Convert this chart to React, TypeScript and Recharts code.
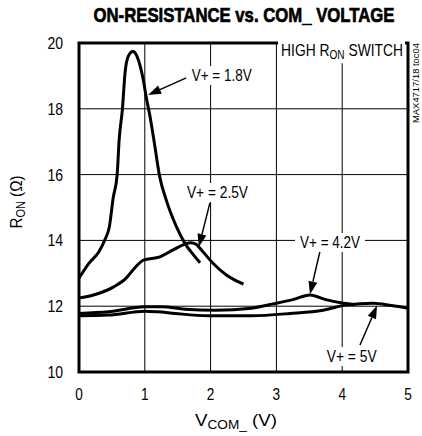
import React from 'react';
import {
    LineChart, Line, XAxis, YAxis, CartesianGrid, ReferenceArea, ReferenceLine, ReferenceDot
} from 'recharts';

document.body.style.margin = '0';

const FONT = "'Liberation Sans', Arial, sans-serif";

const X_TICKS = [0, 1, 2, 3, 4, 5];
const Y_TICKS = [10, 12, 14, 16, 18, 20];

// V+ = 1.8V
const V18 = [
    { v: 0, r: 12.85 }, { v: 0.15, r: 13.3 }, { v: 0.3, r: 13.65 }, { v: 0.4, r: 14.05 },
    { v: 0.46, r: 14.4 }, { v: 0.52, r: 15.3 }, { v: 0.58, r: 16.0 }, { v: 0.61, r: 17.05 },
    { v: 0.66, r: 18.0 }, { v: 0.7, r: 19.1 }, { v: 0.75, r: 19.6 }, { v: 0.82, r: 19.74 },
    { v: 0.88, r: 19.6 }, { v: 0.93, r: 19.3 }, { v: 0.98, r: 18.85 }, { v: 1.02, r: 18.37 },
    { v: 1.08, r: 17.76 }, { v: 1.15, r: 16.9 }, { v: 1.22, r: 16.0 }, { v: 1.33, r: 15.2 },
    { v: 1.48, r: 14.42 }, { v: 1.61, r: 13.91 }, { v: 1.74, r: 13.56 }, { v: 1.84, r: 13.32 },
];

// V+ = 2.5V
const V25 = [
    { v: 0, r: 12.25 }, { v: 0.22, r: 12.34 }, { v: 0.52, r: 12.58 }, { v: 0.72, r: 12.86 },
    { v: 0.82, r: 13.1 }, { v: 0.98, r: 13.4 }, { v: 1.23, r: 13.5 }, { v: 1.43, r: 13.71 },
    { v: 1.6, r: 13.88 }, { v: 1.7, r: 13.93 }, { v: 1.78, r: 13.88 }, { v: 1.86, r: 13.71 },
    { v: 2.04, r: 13.3 }, { v: 2.24, r: 12.95 }, { v: 2.5, r: 12.67 },
];

// V+ = 4.2V
const V42 = [
    { v: 0, r: 11.78 }, { v: 0.45, r: 11.83 }, { v: 1.0, r: 11.98 }, { v: 1.26, r: 11.98 },
    { v: 1.61, r: 11.91 }, { v: 2.07, r: 11.88 }, { v: 2.62, r: 11.94 }, { v: 2.95, r: 12.07 },
    { v: 3.25, r: 12.2 }, { v: 3.51, r: 12.34 }, { v: 3.75, r: 12.2 }, { v: 4.02, r: 12.09 },
    { v: 4.2, r: 12.05 },
];

// V+ = 5V
const V5 = [
    { v: 0, r: 11.71 }, { v: 0.45, r: 11.73 }, { v: 1.0, r: 11.85 }, { v: 1.2, r: 11.83 },
    { v: 1.46, r: 11.78 }, { v: 1.96, r: 11.71 }, { v: 2.62, r: 11.71 }, { v: 3.21, r: 11.78 },
    { v: 3.71, r: 11.88 }, { v: 4.07, r: 12.04 }, { v: 4.47, r: 12.09 }, { v: 4.75, r: 12.02 },
    { v: 5, r: 11.94 },
];

// curve labels: text, left/baseline position in data units, text width
const LABELS = [
    { text: 'V+ = 1.8V', v: 1.713, r: 18.845, w: 60 },
    { text: 'V+ = 2.5V', v: 1.641, r: 15.289, w: 61 },
    { text: 'V+ = 4.2V', v: 3.359, r: 13.769, w: 60 },
    { text: 'V+ = 5V', v: 3.764, r: 10.304, w: 50 },
];

// arrows: from -> to
const ARROWS = [
    { from: { v: 1.63, r: 18.94 }, to: { v: 1.05, r: 18.42 } },
    { from: { v: 1.99, r: 15.14 }, to: { v: 1.82, r: 13.8 } },
    { from: { v: 3.66, r: 13.65 }, to: { v: 3.51, r: 12.36 } },
    { from: { v: 4.27, r: 10.82 }, to: { v: 4.53, r: 12.02 } },
];

function Arrow(props: any) {
    const { x1, y1, x2, y2 } = props;
    const dx = x2 - x1;
    const dy = y2 - y1;
    const len = Math.sqrt(dx * dx + dy * dy) || 1;
    const ux = dx / len;
    const uy = dy / len;
    const hl = 13;
    const hw = 4.5;
    const bx = x2 - ux * hl;
    const by = y2 - uy * hl;
    const pts = `${x2},${y2} ${bx - uy * hw},${by + ux * hw} ${bx + uy * hw},${by - ux * hw}`;
    return (
        <g>
            <line x1={x1} y1={y1} x2={bx} y2={by} stroke="#000" strokeWidth={1.5} />
            <polygon points={pts} fill="#000" />
        </g>
    );
}

function labelShape(text: string, w: number) {
    return (p: any) => (
        <g>
            <rect x={p.cx - 5} y={p.cy - 15} width={w + 10} height={19} fill="#fff" />
            <text x={p.cx} y={p.cy} fontSize={16.5} fontFamily={FONT} fill="#000"
                textLength={w} lengthAdjust="spacingAndGlyphs">{text}</text>
        </g>
    );
}

function highRonShape(p: any) {
    return (
        <g>
            <rect x={p.cx - 3} y={p.cy - 17} width={127} height={24} fill="#fff" />
            <text transform={`translate(${p.cx} ${p.cy}) scale(0.839 1)`} x={0} y={0}
                fontSize={16.5} fontFamily={FONT} fill="#000">
                HIGH R<tspan fontSize={12} dy={3}>ON</tspan><tspan dy={-3}> SWITCH</tspan>
            </text>
        </g>
    );
}

function XTick(props: any) {
    const { x, payload } = props;
    const s = String(payload.value);
    return (
        <text x={x} y={400} textAnchor="middle" fontSize={16.5} fontFamily={FONT} fill="#000"
            textLength={s.length * 7.6} lengthAdjust="spacingAndGlyphs">{s}</text>
    );
}

function YTick(props: any) {
    const { y, payload } = props;
    const s = String(payload.value);
    return (
        <text x={63} y={y + 6} textAnchor="end" fontSize={16.5} fontFamily={FONT} fill="#000"
            textLength={s.length * 7.8} lengthAdjust="spacingAndGlyphs">{s}</text>
    );
}

function YLabel() {
    const cx = 22;
    const cy = 202;
    return (
        <text x={cx} y={cy} transform={`rotate(-90 ${cx} ${cy})`} textAnchor="middle"
            fontSize={16.5} fontFamily={FONT} fill="#000" textLength={53} lengthAdjust="spacingAndGlyphs">
            R<tspan fontSize={12} dy={3}>ON</tspan><tspan dy={-3}> (Ω)</tspan>
        </text>
    );
}

function XLabel() {
    return (
        <text x={195} y={426} fontSize={16.5} fontFamily={FONT} fill="#000"
            textLength={82} lengthAdjust="spacingAndGlyphs">
            V<tspan fontSize={12} dy={3}>COM_</tspan><tspan dy={-3}> (V)</tspan>
        </text>
    );
}

export default function App() {
    return (
        <div style={{ position: 'relative', width: 422, height: 436, background: '#fff' }}>
            <LineChart width={422} height={436} margin={{ top: 43, right: 14, left: 29, bottom: 14 }}>
                <CartesianGrid stroke="#000" strokeWidth={1} />
                <XAxis type="number" dataKey="v" domain={[0, 5]} ticks={X_TICKS} height={50}
                    tickLine={false} axisLine={false} tick={<XTick />} label={<XLabel />} />
                <YAxis type="number" domain={[10, 20]} ticks={Y_TICKS} width={50}
                    tickLine={false} axisLine={false} tick={<YTick />} label={<YLabel />} />
                <Line data={V18} dataKey="r" type="monotone" stroke="#000" strokeWidth={3} dot={false} isAnimationActive={false} />
                <Line data={V25} dataKey="r" type="monotone" stroke="#000" strokeWidth={3} dot={false} isAnimationActive={false} />
                <Line data={V42} dataKey="r" type="monotone" stroke="#000" strokeWidth={3} dot={false} isAnimationActive={false} />
                <Line data={V5} dataKey="r" type="monotone" stroke="#000" strokeWidth={3} dot={false} isAnimationActive={false} />
                {LABELS.map((l) => (
                    <ReferenceDot key={l.text} x={l.v} y={l.r} r={0} ifOverflow="visible" shape={labelShape(l.text, l.w)} />
                ))}
                {ARROWS.map((a, i) => (
                    <ReferenceLine key={i} segment={[{ x: a.from.v, y: a.from.r }, { x: a.to.v, y: a.to.r }]}
                        ifOverflow="visible" shape={Arrow} />
                ))}
                <ReferenceDot x={3.071} y={19.6} r={0} ifOverflow="visible" shape={highRonShape} />
                <ReferenceArea x1={0} x2={5} y1={10} y2={20} fill="none" fillOpacity={0} stroke="#000" strokeWidth={3} ifOverflow="visible" />
            </LineChart>
            <svg width={422} height={436} style={{ position: 'absolute', left: 0, top: 0, pointerEvents: 'none' }}>
                <text transform="translate(244 22) scale(0.797 1)" x={0} y={0} textAnchor="middle" fontSize={21}
                    fontWeight="bold" fontFamily={FONT} fill="#000" stroke="#000" strokeWidth={0.7}>
                    ON-RESISTANCE vs. COM_ VOLTAGE
                </text>
                <text x={419} y={83} transform="rotate(-90 419 83)" textAnchor="middle" fontSize={9} fontFamily={FONT} fill="#000"
                    textLength={80} lengthAdjust="spacingAndGlyphs">
                    MAX4717/18 toc04
                </text>
            </svg>
        </div>
    );
}
